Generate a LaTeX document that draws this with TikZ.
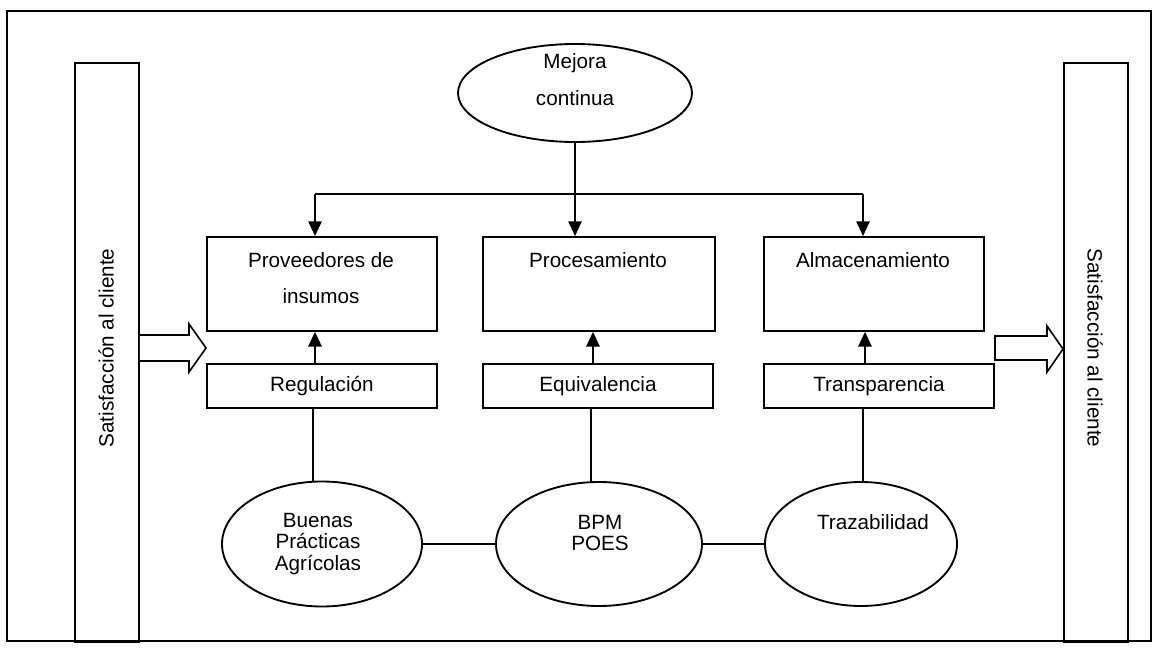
\documentclass[tikz,border=0pt]{standalone}
\usepackage{fontspec}
\setmainfont{Liberation Sans}
\usetikzlibrary{shapes,arrows,positioning,calc,arrows.meta}

\begin{document}
\begin{tikzpicture}[x=0.75pt,y=-0.75pt,line width=1.4pt,
    every node/.style={font=\fontsize{15.5}{19}\selectfont},
    stage/.style={draw,minimum width=230*0.75pt,minimum height=94*0.75pt,align=center,anchor=north west,inner sep=0pt},
    tag/.style={draw,minimum width=230*0.75pt,minimum height=44*0.75pt,anchor=north west,inner sep=0pt},
    blob/.style={draw,ellipse,align=center,inner sep=0pt},
    side/.style={draw,minimum width=64*0.75pt,minimum height=579*0.75pt,anchor=north west,inner sep=0pt},
    tip/.style={-{Triangle[length=11pt,width=10pt]}}]
    \useasboundingbox (0,0) rectangle (1159,648);
    \draw[line width=1.2pt] (7,11) rectangle (1151,641);

    % side bars
    \node[side] (izq) at (74,62) {};
    \node[side] (der) at (1063,62) {};
    \node[rotate=90] (satizq) at (106,348) {Satisfacción al cliente};
    \node[rotate=-90] (satder) at (1095,348) {Satisfacción al cliente};

    % top
    \node[blob,minimum width=234*0.75pt,minimum height=98*0.75pt] (mejora) at (575,93) {};
    \node (mejoratxt1) at (575,63) {Mejora};
    \node (mejoratxt2) at (575,98) {continua};

    % stages
    \node[stage] (prov) at (206,236) {};
    \node (provtxt1) at (321,260) {Proveedores de};
    \node (provtxt2) at (321,296) {insumos};
    \node[stage,minimum width=232*0.75pt] (proc) at (482,236) {};
    \node (proctxt) at (598,260) {Procesamiento};
    \node[stage,minimum width=220*0.75pt] (alma) at (763,236) {};
    \node (almatxt) at (873,260) {Almacenamiento};

    \node[tag] (regu) at (206,363) {Regulación};
    \node[tag] (equi) at (482,363) {Equivalencia};
    \node[tag] (tran) at (763,363) {Transparencia};

    % bottom
    \node[blob,minimum width=200*0.75pt,minimum height=125*0.75pt] (buenas) at (322,544) {};
    \node[align=center] (buenastxt) at (318,544) {Buenas\\[-3pt]Prácticas\\[-3pt]Agrícolas};
    \node[blob,minimum width=206*0.75pt,minimum height=124*0.75pt] (bpm) at (599,544) {};
    \node[align=center] (bpmtxt) at (600,533) {BPM\\[-3pt]POES};
    \node[blob,minimum width=192*0.75pt,minimum height=124*0.75pt] (traza) at (861,544) {};
    \node (trazatxt) at (873,522) {Trazabilidad};

    % connectors
    \coordinate (rama) at (575,194);
    \draw (mejora.south) -- (rama);
    \draw (rama -| 315,0) -- (rama -| 863,0);
    \draw[tip] (rama -| 315,0) -- (prov.north -| 315,0);
    \draw[tip] (rama) -- (proc.north -| rama);
    \draw[tip] (rama -| 863,0) -- (alma.north -| 863,0);

    \draw[tip] (regu.north -| 315,0) -- (prov.south -| 315,0);
    \draw[tip] (equi.north -| 593,0) -- (proc.south -| 593,0);
    \draw[tip] (tran.north -| 865,0) -- (alma.south -| 865,0);

    \draw (regu.south -| 313,0) -- (313,482);
    \draw (equi.south -| 591,0) -- (591,482);
    \draw (tran.south -| 863,0) -- (863,482);

    \draw (buenas.east) -- (bpm.west);
    \draw (bpm.east) -- (traza.west);

    % hollow arrows
    \draw[line width=1.2pt,fill=white] (izq.east |- 0,335) -- (189,335) -- (189,324) -- (prov.west |- 0,348)
        -- (189,372) -- (189,361) -- (izq.east |- 0,361);
    \draw[line width=1.2pt,fill=white] (995,336) -- (1047,336) -- (1047,326) -- (der.west |- 0,349)
        -- (1047,372) -- (1047,360) -- (995,360) -- cycle;
\end{tikzpicture}
\end{document}
